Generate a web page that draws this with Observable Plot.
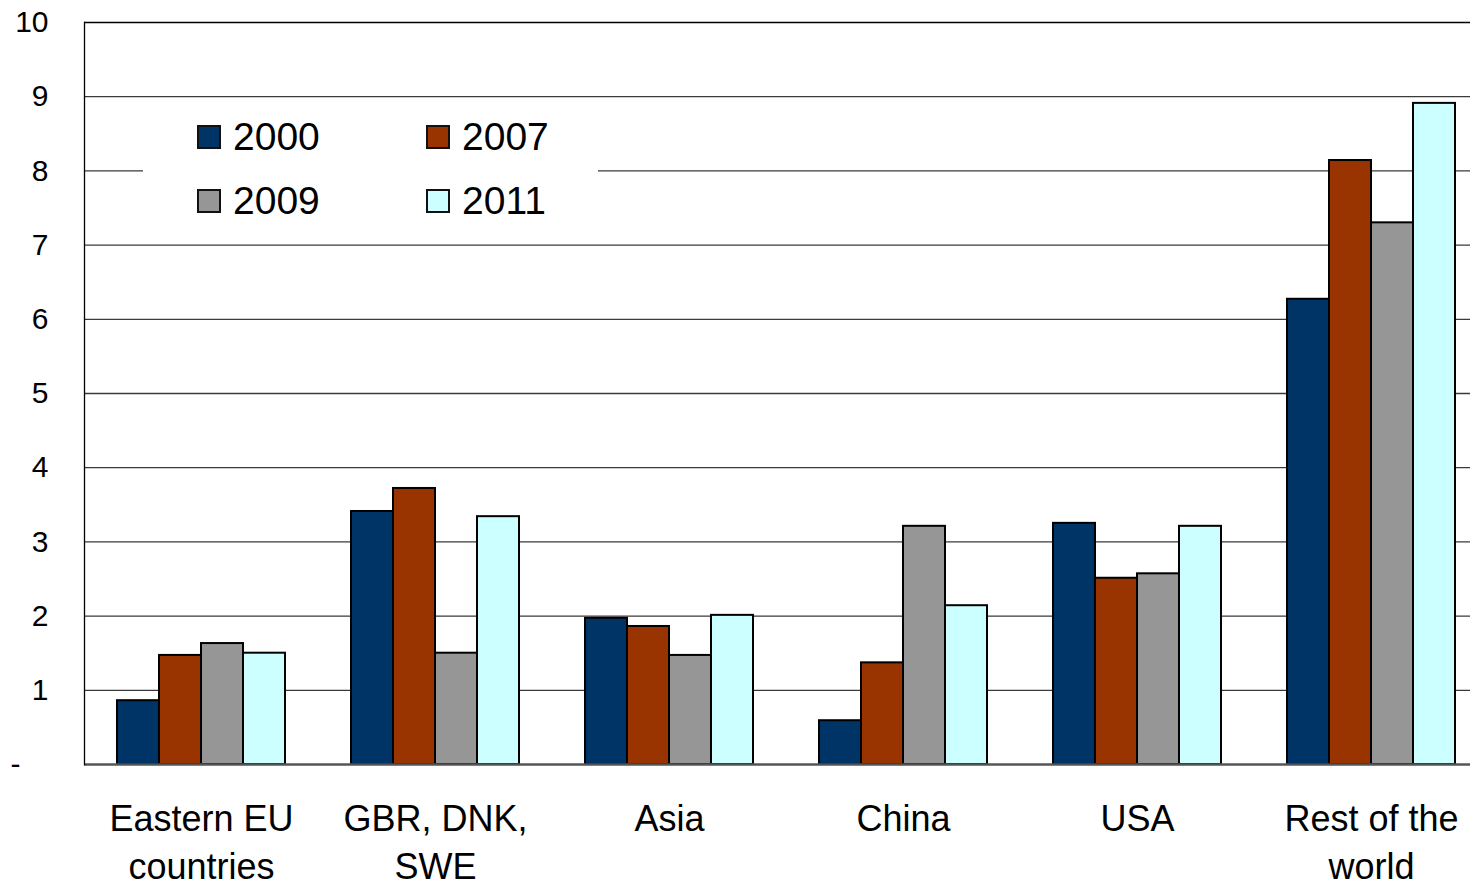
<!DOCTYPE html>
<html>
<head>
<meta charset="utf-8">
<script src="https://cdn.jsdelivr.net/npm/d3@7"></script>
<script src="https://cdn.jsdelivr.net/npm/@observablehq/plot@0.6"></script>
<style>
  html, body { margin: 0; padding: 0; background: #fff; overflow: hidden; }
  #wrap { position: relative; width: 1470px; height: 886px; overflow: hidden; font-family: "Liberation Sans", Arial, sans-serif; }
  #chart svg { max-width: none !important; display: block; }
  #legend { position: absolute; left: 143px; top: 104px; width: 455px; height: 130px; background: #fff; }
  .item { position: absolute; display: flex; align-items: center; height: 24px; font-size: 39px; color: #000; }
  .sw { width: 20px; height: 20px; border: 2px solid #111; margin-right: 12px; }
</style>
</head>
<body>
<div id="wrap"><div id="chart"></div><div id="legend"></div></div>
<script>
// Regions (two-line labels use \n)
const regions = ["Eastern EU\ncountries", "GBR, DNK,\nSWE", "Asia", "China", "USA", "Rest of the\nworld"];
const years = ["2000", "2007", "2009", "2011"];
const colors = ["#003366", "#993300", "#969696", "#CCFFFF"];

// Values per year, in region order
const v2000 = [0.86, 3.41, 1.97, 0.59, 3.25, 6.27];
const v2007 = [1.47, 3.72, 1.86, 1.37, 2.51, 8.14];
const v2009 = [1.63, 1.50, 1.47, 3.21, 2.57, 7.30];
const v2011 = [1.50, 3.34, 2.01, 2.14, 3.21, 8.91];

const yTicks = [1, 2, 3, 4, 5, 6, 7, 8, 9, 10];

const series = [v2000, v2007, v2009, v2011];
const data = [];
regions.forEach((r, i) => years.forEach((y, j) => data.push({region: r, year: y, value: series[j][i]})));

const chart = Plot.plot({
  width: 1490,
  height: 886,
  marginLeft: 82,
  marginRight: 0,
  marginTop: 22,
  marginBottom: 122,
  style: {fontFamily: "Liberation Sans, Arial, sans-serif", background: "#fff", overflow: "hidden", maxWidth: "none"},
  fx: {domain: regions, padding: 0},
  x: {domain: years, paddingInner: 0, paddingOuter: 0.76, axis: null},
  y: {domain: [0, 10], label: null},
  color: {domain: years, range: colors},
  marks: [
    Plot.ruleY(yTicks.slice(0, -1), {stroke: "#3a3a3a", strokeWidth: 1.3}),
    Plot.ruleY([10], {stroke: "#000", strokeWidth: 1.3}),
    Plot.barY(data, {fx: "region", x: "year", y: "value", fill: "year", stroke: "#000", strokeWidth: 2}),
    Plot.ruleY([0], {stroke: "#555", strokeWidth: 2.5}),
    Plot.frame({anchor: "left", facetAnchor: "left", stroke: "#000", strokeWidth: 1.3}),
    Plot.axisY({ticks: yTicks, tickSize: 0, tickPadding: 36, fontSize: 30, fill: "#000", label: null}),
    Plot.text([{region: regions[0], t: "-"}], {fx: "region", text: "t", y: () => 0, frameAnchor: "left", dx: -74, textAnchor: "start", fontSize: 30, fill: "#000"}),
    Plot.axisFx({anchor: "bottom", tickSize: 0, tickPadding: 33, fontSize: 36, lineHeight: 1.32, fill: "#000", label: null})
  ]
});
document.getElementById("chart").appendChild(chart);

// Legend, two rows of two
const legend = document.getElementById("legend");
const pos = [[54, 21], [283, 21], [54, 85], [283, 85]];
years.forEach((y, i) => {
  const it = document.createElement("div");
  it.className = "item";
  it.style.left = pos[i][0] + "px";
  it.style.top = pos[i][1] + "px";
  const sw = document.createElement("div");
  sw.className = "sw";
  sw.style.background = colors[i];
  const tx = document.createElement("span");
  tx.textContent = y;
  it.appendChild(sw);
  it.appendChild(tx);
  legend.appendChild(it);
});
</script>
</body>
</html>
